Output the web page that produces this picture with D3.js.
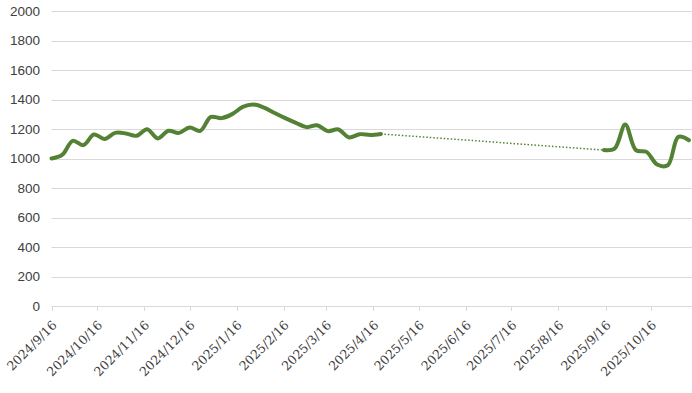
<!DOCTYPE html>
<html>
<head>
<meta charset="utf-8">
<script src="https://cdn.jsdelivr.net/npm/d3@7"></script>
<style>
  body { margin: 0; background: #fff; }
  .grid line { stroke: #d9d9d9; stroke-width: 1; }
  .xlab { font-family: "DejaVu Serif", "Liberation Serif", serif; font-size: 12.5px; }
</style>
</head>
<body>
<svg class="chart" width="692" height="393"></svg>
<script>
// first stretch of weekly readings
var dates1 = ["2024-09-16", "2024-09-23", "2024-09-30", "2024-10-07", "2024-10-14", "2024-10-21",
  "2024-10-28", "2024-11-04", "2024-11-11", "2024-11-18", "2024-11-25", "2024-12-02",
  "2024-12-09", "2024-12-16", "2024-12-23", "2024-12-30", "2025-01-06", "2025-01-13",
  "2025-01-20", "2025-01-27", "2025-02-03", "2025-02-10", "2025-02-17", "2025-02-24",
  "2025-03-03", "2025-03-10", "2025-03-17", "2025-03-24", "2025-03-31", "2025-04-07",
  "2025-04-14", "2025-04-21"];
var values1 = [1001, 1025, 1121, 1092, 1164, 1134, 1175, 1171, 1155, 1200, 1137, 1189,
  1175, 1211, 1189, 1283, 1275, 1302, 1351, 1367, 1347, 1310, 1275, 1243,
  1214, 1227, 1187, 1198, 1144, 1166, 1161, 1168];

// second stretch after the gap
var dates2 = ["2025-09-15", "2025-09-22", "2025-09-29", "2025-10-06", "2025-10-13",
  "2025-10-20", "2025-10-27", "2025-11-03", "2025-11-10"];
var values2 = [1058, 1068, 1232, 1058, 1046, 960, 955, 1148, 1125];

var yTicks = [0, 200, 400, 600, 800, 1000, 1200, 1400, 1600, 1800, 2000];
var xTickDates = ["2024-09-16", "2024-10-16", "2024-11-16", "2024-12-16", "2025-01-16",
  "2025-02-16", "2025-03-16", "2025-04-16", "2025-05-16", "2025-06-16", "2025-07-16",
  "2025-08-16", "2025-09-16", "2025-10-16"];

var parseDate = d3.timeParse("%Y-%m-%d");
var fmt = d3.timeFormat("%Y/%-m/%-d");

function toPoints(dates, values) {
  return dates.map(function(d, i) { return {date: parseDate(d), value: values[i]}; });
}
var seg1 = toPoints(dates1, values1);
var seg2 = toPoints(dates2, values2);

var plotLeft = 51.5, plotRight = 689, plotTop = 11.3, plotBottom = 306;

var x = d3.scaleTime()
  .domain([parseDate(dates1[0]), parseDate(dates2[dates2.length - 1])])
  .range([plotLeft, plotRight]);
var y = d3.scaleLinear().domain([0, 2000]).range([plotBottom, plotTop]);

var svg = d3.select(".chart");

// horizontal gridlines
svg.append("g").attr("class", "grid")
  .selectAll("line").data(yTicks.slice(1)).enter().append("line")
  .attr("x1", plotLeft).attr("x2", 692)
  .attr("y1", function(d) { return Math.round(y(d)) + 0.5; })
  .attr("y2", function(d) { return Math.round(y(d)) + 0.5; });

// y labels
svg.append("g").selectAll("text").data(yTicks).enter().append("text")
  .attr("font-family", "'Liberation Sans', Arial, sans-serif")
  .attr("font-size", "13.5px")
  .attr("fill", "#404040")
  .attr("x", 40)
  .attr("y", function(d) { return y(d); })
  .attr("dy", "0.35em")
  .attr("text-anchor", "end")
  .text(function(d) { return d; });

// x axis line and ticks
var xAxis = svg.append("g").attr("class", "grid");
xAxis.append("line")
  .attr("x1", plotLeft).attr("x2", 692)
  .attr("y1", plotBottom + 0.5).attr("y2", plotBottom + 0.5);
xAxis.selectAll(".tk").data(xTickDates).enter().append("line")
  .attr("class", "tk")
  .attr("x1", function(d) { return Math.round(x(parseDate(d))) + 0.5; })
  .attr("x2", function(d) { return Math.round(x(parseDate(d))) + 0.5; })
  .attr("y1", plotBottom).attr("y2", plotBottom + 5);

svg.append("g").selectAll("text").data(xTickDates).enter().append("text")
  .attr("class", "xlab")
  .attr("fill", "#404040")
  .attr("text-anchor", "end")
  .attr("transform", function(d) {
    return "translate(" + (x(parseDate(d)) + 6) + "," + (plotBottom + 20) + ") rotate(-45)";
  })
  .text(function(d) { return fmt(parseDate(d)); });

var line = d3.line()
  .x(function(d) { return x(d.date); })
  .y(function(d) { return y(d.value); })
  .curve(d3.curveCatmullRom.alpha(0.5));

// dotted connector across the missing months
var gap = [seg1[seg1.length - 1], seg2[0]];
svg.append("path")
  .attr("d", d3.line().x(function(d) { return x(d.date); }).y(function(d) { return y(d.value); })(gap))
  .attr("fill", "none")
  .attr("stroke", "#548235")
  .attr("stroke-width", 1.5)
  .attr("stroke-dasharray", "1.5,2");

[seg1, seg2].forEach(function(seg) {
  svg.append("path")
    .datum(seg)
    .attr("d", line)
    .attr("fill", "none")
    .attr("stroke", "#548235")
    .attr("stroke-width", 4)
    .attr("stroke-linejoin", "round")
    .attr("stroke-linecap", "round");
});
</script>
</body>
</html>
